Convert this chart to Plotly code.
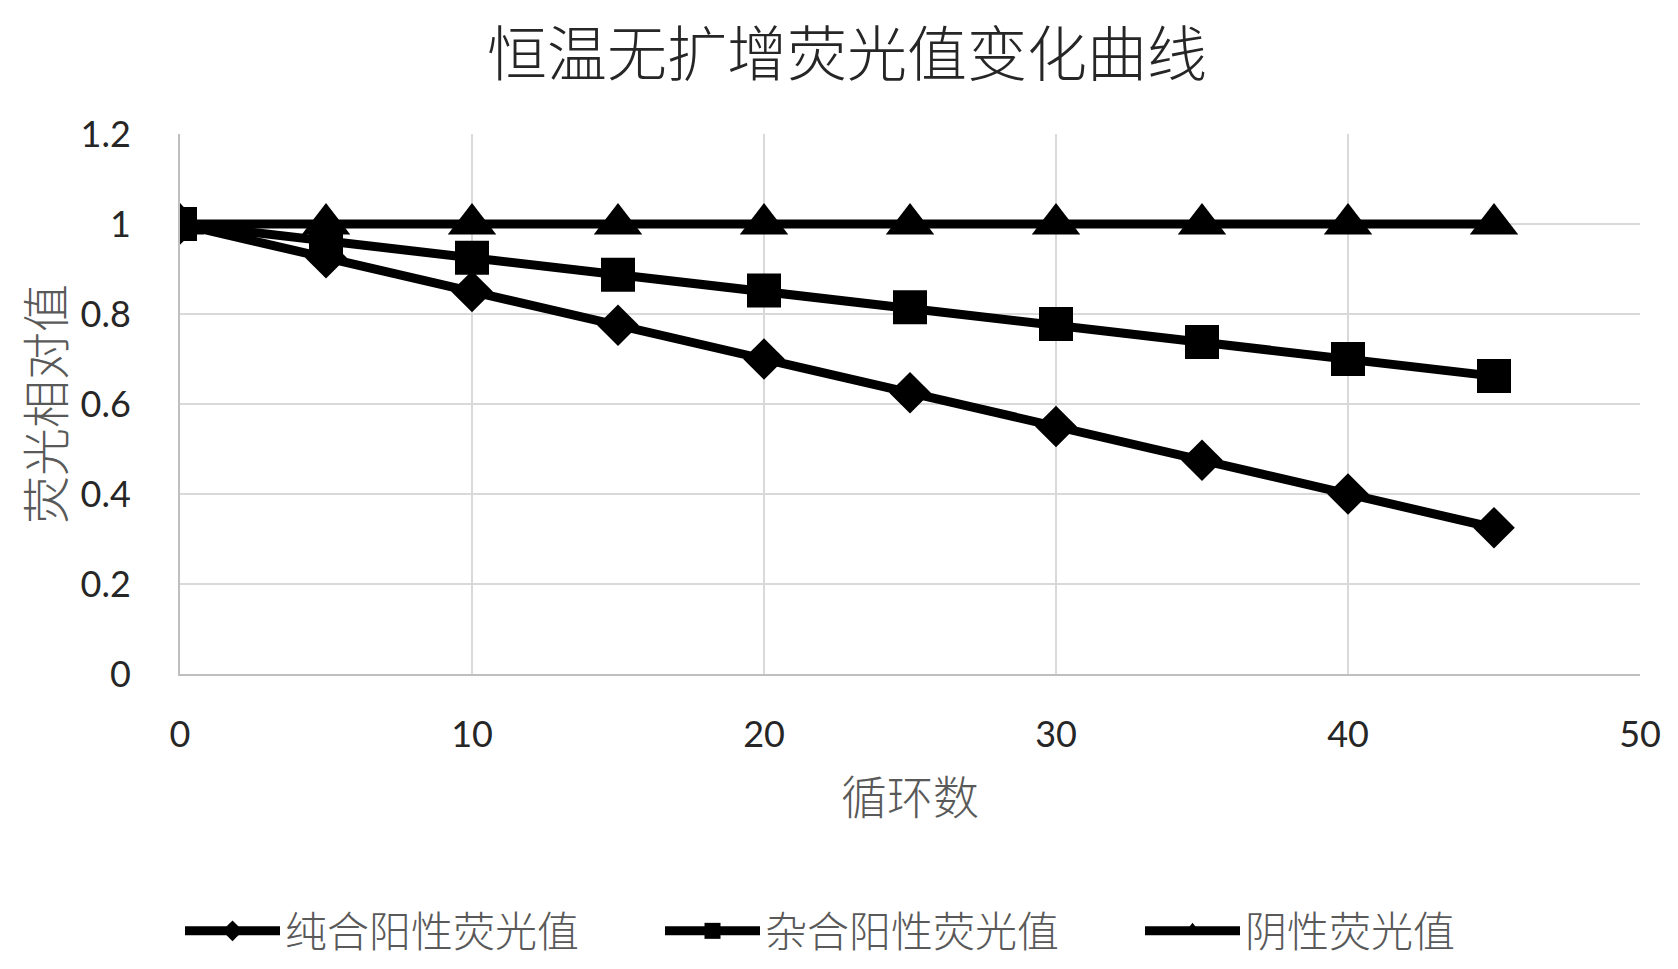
import plotly.graph_objects as go

cycles = [0, 5, 10, 15, 20, 25, 30, 35, 40, 45]
homo_pos = [1.0, 0.925, 0.85, 0.775, 0.70, 0.625, 0.55, 0.475, 0.40, 0.325]
hetero_pos = [1.0, 0.963, 0.925, 0.887, 0.852, 0.815, 0.778, 0.738, 0.70, 0.662]
negative = [1.0, 1.0, 1.0, 1.0, 1.0, 1.0, 1.0, 1.0, 1.0, 1.0]
names = ["纯合阳性荧光值", "杂合阳性荧光值", "阴性荧光值"]
symbols = ["diamond", "square", "triangle-up"]
sizes = [32, 34, 42]

cjk = "Noto Sans CJK SC"
fig = go.Figure()
for ys, nm, sym, sz in zip([homo_pos, hetero_pos, negative], names, symbols, sizes):
    fig.add_trace(go.Scatter(
        x=cycles, y=ys, name=nm, mode="lines+markers",
        line=dict(color="black", width=9),
        marker=dict(symbol=sym, size=sz, color="black"),
    ))

fig.update_layout(
    width=1678, height=969,
    paper_bgcolor="white", plot_bgcolor="white",
    margin=dict(l=172, r=46, t=126, b=303),
    title=dict(text="恒温无扩增荧光值变化曲线", x=0.5, xanchor="center",
               y=0.952, yanchor="middle",
               font=dict(family=cjk, size=60, color="#262626", weight=300)),
    font=dict(family=cjk),
    xaxis=dict(range=[0, 50], dtick=10, showgrid=True, gridcolor="#d9d9d9", gridwidth=2,
               showline=True, linecolor="#bfbfbf", linewidth=2, zeroline=False,
               mirror=False, ticks="", ticklabelstandoff=28, automargin=False,
               tickfont=dict(family="Lato", size=36, color="#262626"),
               title=dict(text="循环数", standoff=28,
                          font=dict(family=cjk, size=46, color="#595959", weight=300))),
    yaxis=dict(range=[0, 1.2], dtick=0.2, showgrid=True, gridcolor="#d9d9d9", gridwidth=2,
               showline=True, linecolor="#bfbfbf", linewidth=2, zeroline=False,
               ticks="", ticklabelstandoff=40, automargin=False,
               tickfont=dict(family="Lato", size=36, color="#262626"),
               title=dict(text="荧光相对值", standoff=16,
                          font=dict(family=cjk, size=48, color="#595959", weight=300))),
    legend=dict(orientation="h", x=0.0, xanchor="left",
                y=-0.476, yanchor="middle",
                font=dict(family=cjk, size=42, color="#595959", weight=300),
                itemwidth=95, tracegroupgap=0, entrywidth=370),
    showlegend=True,
)

fig.write_html("out.html")
